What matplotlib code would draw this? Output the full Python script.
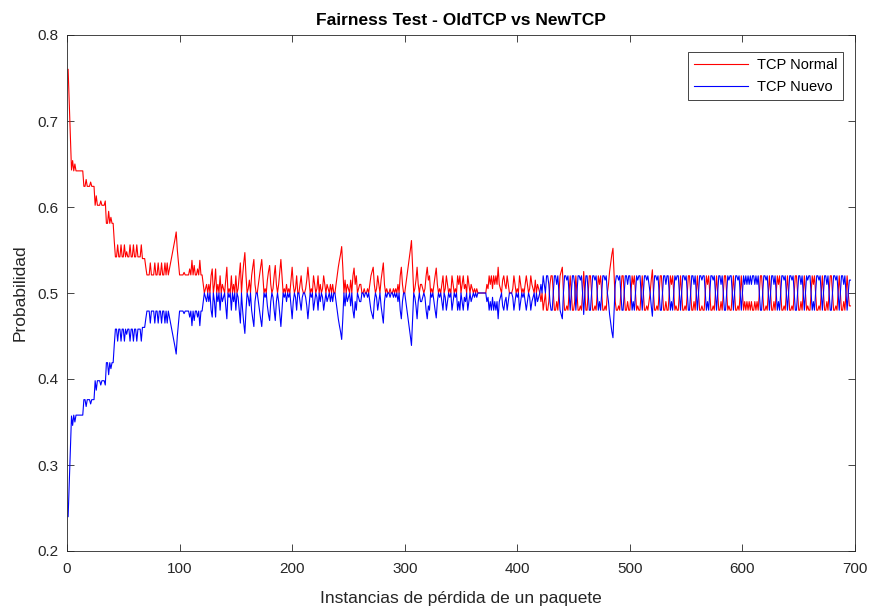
import matplotlib.pyplot as plt
import numpy as np

# TCP Normal probability per packet-loss instance
red_vals = [
    0.76, 0.72, 0.68, 0.643, 0.654, 0.642, 0.65, 0.642, 0.642, 0.642,
    0.642, 0.642, 0.642, 0.642, 0.624, 0.624, 0.632, 0.624, 0.624, 0.624,
    0.629, 0.624, 0.624, 0.624, 0.602, 0.613, 0.602, 0.602, 0.602, 0.607,
    0.602, 0.602, 0.602, 0.607, 0.581, 0.581, 0.595, 0.581, 0.588, 0.581,
    0.581, 0.56, 0.542, 0.542, 0.556, 0.542, 0.542, 0.556, 0.542, 0.542,
    0.556, 0.542, 0.548, 0.542, 0.542, 0.556, 0.542, 0.542, 0.556, 0.542,
    0.542, 0.556, 0.542, 0.542, 0.542, 0.556, 0.54, 0.54, 0.54, 0.53,
    0.521, 0.521, 0.521, 0.535, 0.521, 0.521, 0.521, 0.535, 0.521, 0.521,
    0.535, 0.521, 0.521, 0.535, 0.521, 0.521, 0.535, 0.521, 0.535, 0.521,
    0.528, 0.535, 0.542, 0.549, 0.556, 0.563, 0.571, 0.55, 0.535, 0.521,
    0.521, 0.521, 0.521, 0.524, 0.521, 0.521, 0.521, 0.521, 0.528, 0.521,
    0.538, 0.521, 0.532, 0.521, 0.521, 0.528, 0.521, 0.538, 0.521, 0.521,
    0.51, 0.50, 0.505, 0.51, 0.50, 0.51, 0.50, 0.52, 0.528, 0.50,
    0.51, 0.528, 0.50, 0.51, 0.50, 0.52, 0.50, 0.51, 0.505, 0.50,
    0.515, 0.53, 0.50, 0.505, 0.50, 0.52, 0.50, 0.51, 0.50, 0.52,
    0.50, 0.505, 0.52, 0.535, 0.50, 0.52, 0.535, 0.547, 0.52, 0.50,
    0.505, 0.515, 0.50, 0.52, 0.53, 0.539, 0.51, 0.50, 0.50, 0.51,
    0.52, 0.53, 0.539, 0.52, 0.50, 0.505, 0.50, 0.515, 0.525, 0.532,
    0.51, 0.50, 0.505, 0.52, 0.532, 0.51, 0.50, 0.51, 0.525, 0.539,
    0.52, 0.50, 0.505, 0.50, 0.51, 0.50, 0.505, 0.50, 0.515, 0.53,
    0.51, 0.50, 0.505, 0.52, 0.50, 0.50, 0.51, 0.52, 0.505, 0.50,
    0.50, 0.505, 0.515, 0.53, 0.515, 0.50, 0.505, 0.50, 0.52, 0.51,
    0.50, 0.505, 0.52, 0.50, 0.51, 0.50, 0.505, 0.52, 0.51, 0.50,
    0.51, 0.505, 0.50, 0.51, 0.50, 0.51, 0.50, 0.50, 0.51, 0.52,
    0.53, 0.538, 0.545, 0.554, 0.53, 0.50, 0.515, 0.50, 0.51, 0.505,
    0.50, 0.515, 0.50, 0.52, 0.529, 0.51, 0.52, 0.50, 0.505, 0.51,
    0.51, 0.50, 0.50, 0.505, 0.50, 0.50, 0.505, 0.50, 0.51, 0.52,
    0.525, 0.53, 0.51, 0.50, 0.505, 0.52, 0.51, 0.50, 0.515, 0.525,
    0.535, 0.51, 0.50, 0.505, 0.50, 0.50, 0.505, 0.50, 0.50, 0.505,
    0.50, 0.505, 0.50, 0.51, 0.50, 0.52, 0.53, 0.51, 0.50, 0.50,
    0.51, 0.52, 0.53, 0.54, 0.55, 0.561, 0.53, 0.50, 0.505, 0.515,
    0.53, 0.51, 0.50, 0.51, 0.51, 0.505, 0.50, 0.505, 0.52, 0.53,
    0.515, 0.52, 0.50, 0.505, 0.50, 0.51, 0.52, 0.529, 0.51, 0.50,
    0.505, 0.50, 0.51, 0.52, 0.50, 0.505, 0.52, 0.51, 0.50, 0.505,
    0.50, 0.52, 0.51, 0.50, 0.505, 0.50, 0.52, 0.51, 0.52, 0.50,
    0.51, 0.52, 0.505, 0.51, 0.50, 0.52, 0.51, 0.50, 0.51, 0.505,
    0.50, 0.505, 0.50, 0.505, 0.50, 0.50, 0.50, 0.50, 0.50, 0.50,
    0.50, 0.50, 0.51, 0.505, 0.52, 0.51, 0.52, 0.505, 0.52, 0.51,
    0.52, 0.51, 0.53, 0.51, 0.505, 0.50, 0.515, 0.52, 0.51, 0.505,
    0.52, 0.51, 0.50, 0.50, 0.50, 0.505, 0.52, 0.51, 0.50, 0.505,
    0.50, 0.52, 0.51, 0.50, 0.505, 0.50, 0.51, 0.52, 0.51, 0.50,
    0.505, 0.52, 0.51, 0.505, 0.50, 0.515, 0.50, 0.51, 0.505, 0.50,
    0.49, 0.50, 0.48, 0.49, 0.50, 0.48, 0.48, 0.49, 0.51, 0.52,
    0.52, 0.50, 0.48, 0.48, 0.49, 0.48, 0.50, 0.52, 0.525, 0.53,
    0.50, 0.48, 0.48, 0.485, 0.48, 0.50, 0.52, 0.50, 0.48, 0.48,
    0.49, 0.52, 0.50, 0.48, 0.48, 0.485, 0.48, 0.50, 0.525, 0.50,
    0.48, 0.48, 0.50, 0.52, 0.52, 0.50, 0.48, 0.48, 0.485, 0.48,
    0.50, 0.52, 0.51, 0.52, 0.50, 0.48, 0.48, 0.485, 0.48, 0.50,
    0.51, 0.525, 0.535, 0.545, 0.552, 0.52, 0.49, 0.48, 0.48, 0.485,
    0.48, 0.50, 0.52, 0.52, 0.50, 0.48, 0.48, 0.49, 0.48, 0.48,
    0.50, 0.52, 0.51, 0.52, 0.50, 0.48, 0.485, 0.48, 0.48, 0.50,
    0.52, 0.50, 0.48, 0.48, 0.485, 0.48, 0.49, 0.50, 0.515, 0.527,
    0.50, 0.48, 0.48, 0.485, 0.48, 0.50, 0.52, 0.52, 0.50, 0.48,
    0.48, 0.49, 0.48, 0.48, 0.50, 0.52, 0.51, 0.52, 0.50, 0.48,
    0.485, 0.48, 0.48, 0.50, 0.52, 0.50, 0.48, 0.48, 0.485, 0.48,
    0.50, 0.52, 0.52, 0.50, 0.48, 0.48, 0.49, 0.48, 0.50, 0.52,
    0.50, 0.48, 0.48, 0.485, 0.48, 0.48, 0.50, 0.52, 0.51, 0.52,
    0.50, 0.48, 0.48, 0.485, 0.48, 0.50, 0.52, 0.50, 0.48, 0.48,
    0.49, 0.48, 0.50, 0.52, 0.52, 0.50, 0.48, 0.485, 0.48, 0.48,
    0.50, 0.52, 0.50, 0.48, 0.48, 0.485, 0.48, 0.50, 0.52, 0.50,
    0.48, 0.49, 0.48, 0.49, 0.48, 0.49, 0.48, 0.49, 0.48, 0.48,
    0.49, 0.48, 0.49, 0.48, 0.50, 0.52, 0.52, 0.50, 0.48, 0.48,
    0.485, 0.48, 0.50, 0.52, 0.50, 0.48, 0.48, 0.49, 0.48, 0.50,
    0.52, 0.51, 0.52, 0.50, 0.48, 0.48, 0.485, 0.48, 0.50, 0.52,
    0.50, 0.48, 0.48, 0.485, 0.48, 0.50, 0.52, 0.52, 0.50, 0.48,
    0.48, 0.49, 0.48, 0.50, 0.52, 0.50, 0.48, 0.485, 0.48, 0.48,
    0.50, 0.52, 0.51, 0.52, 0.50, 0.48, 0.48, 0.485, 0.48, 0.50,
    0.52, 0.50, 0.48, 0.48, 0.49, 0.48, 0.50, 0.52, 0.52, 0.50,
    0.48, 0.48, 0.485, 0.48, 0.50, 0.52, 0.50, 0.48, 0.48, 0.49,
    0.48, 0.50, 0.52, 0.50, 0.485, 0.485,
]
red_vals = np.array(red_vals)
# TCP Nuevo is the complement of TCP Normal (the two curves mirror around 0.5)
blue_vals = 1 - red_vals
inst = np.arange(1, len(red_vals) + 1)

x_ticks = [0, 100, 200, 300, 400, 500, 600, 700]
y_ticks = [0.2, 0.3, 0.4, 0.5, 0.6, 0.7, 0.8]

plt.rcParams['font.family'] = ['Liberation Sans', 'DejaVu Sans']
axcol = '#262626'

fig = plt.figure(figsize=(8.74, 6.09), dpi=100)
ax = fig.add_axes([67/874, 1 - 551/609, (855 - 67)/874, (551 - 35)/609])

ax.plot(inst, red_vals, color='r', lw=0.8, label='TCP Normal')
ax.plot(inst, blue_vals, color='b', lw=0.8, label='TCP Nuevo')

ax.set_xlim(0, 700)
ax.set_ylim(0.2, 0.8)
ax.set_xticks(x_ticks)
ax.set_yticks(y_ticks)
ax.set_yticklabels([f'{v:.1f}' for v in y_ticks])
ax.tick_params(direction='in', length=5, width=0.6, colors=axcol,
               labelsize=11, top=True, right=True, pad=6)
ax.tick_params(axis='x', pad=8)
for s in ax.spines.values():
    s.set_color(axcol)
    s.set_linewidth(0.6)

ax.set_title('Fairness Test - OldTCP vs NewTCP', fontsize=12.5,
             fontweight='bold', color='black', pad=7)
ax.set_xlabel('Instancias de pérdida de un paquete', fontsize=12.5,
              color=axcol, labelpad=11)
ax.set_ylabel('Probabilidad', fontsize=12.5, color=axcol, labelpad=7)

leg = ax.legend(loc='upper right', bbox_to_anchor=(0.985, 0.967), fontsize=10.5,
                fancybox=False, framealpha=1, edgecolor=axcol,
                handlelength=3.7, handletextpad=0.6, borderpad=0.4,
                borderaxespad=0, labelspacing=0.55)
leg.get_frame().set_linewidth(0.6)
for h in leg.get_lines():
    h.set_linewidth(0.8)

fig.savefig('out.png', dpi=100)
